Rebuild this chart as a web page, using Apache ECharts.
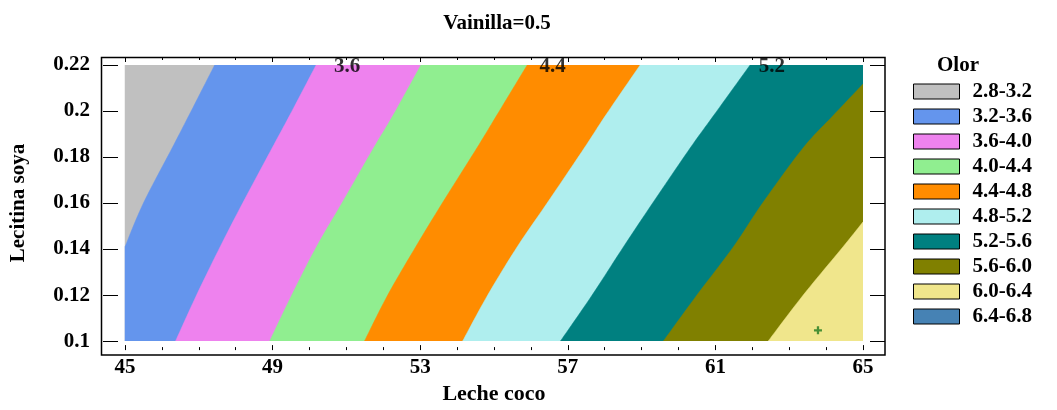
<!DOCTYPE html>
<html>
<head>
<meta charset="utf-8">
<script src="https://cdn.jsdelivr.net/npm/echarts@6/dist/echarts.min.js"></script>
<style>
  html, body { margin: 0; padding: 0; background: #fff; }
  #chart { width: 1057px; height: 410px; }
</style>
</head>
<body>
<div id="chart"></div>
<script>
// Olor response bands over Leche coco (x) and Lecitina soya (y), Vainilla held at 0.5
const X_MIN = 45, X_MAX = 65, X_STEP = 4;
const Y_MIN = 0.1, Y_MAX = 0.22, Y_STEP = 0.02;

const bandLabels = ['2.8-3.2', '3.2-3.6', '3.6-4.0', '4.0-4.4', '4.4-4.8',
                    '4.8-5.2', '5.2-5.6', '5.6-6.0', '6.0-6.4', '6.4-6.8'];

// Contour lines [leche coco, lecitina soya], traced from the top edge downward
const contour3_2 = [[47.43, 0.22], [46.73, 0.198], [46.28, 0.184], [45.50, 0.160], [45.0, 0.141]];
const contour3_6 = [[50.18, 0.22], [49.46, 0.198], [48.99, 0.184], [48.19, 0.160], [47.58, 0.141], [46.94, 0.120], [46.37, 0.10]];
const contour4_0 = [[53.02, 0.22], [52.26, 0.198], [51.74, 0.184], [50.88, 0.160], [50.19, 0.141], [49.52, 0.120], [48.92, 0.10]];
const contour4_4 = [[55.90, 0.22], [55.07, 0.198], [54.54, 0.184], [53.60, 0.160], [52.88, 0.141], [52.12, 0.120], [51.49, 0.10]];
const contour4_8 = [[58.96, 0.22], [58.02, 0.198], [57.45, 0.184], [56.44, 0.160], [55.63, 0.141], [54.83, 0.120], [54.15, 0.10]];
const contour5_2 = [[61.94, 0.22], [60.95, 0.198], [60.32, 0.184], [59.30, 0.160], [58.51, 0.141], [57.66, 0.120], [56.80, 0.10]];
const contour5_6 = [[65.0, 0.2117], [64.19, 0.198], [63.38, 0.184], [62.28, 0.160], [61.49, 0.141], [60.50, 0.120], [59.59, 0.10]];
const contour6_0 = [[65.0, 0.1518], [64.46, 0.141], [63.38, 0.120], [62.43, 0.10]];

// Level labels written along the top edge
const contourLabels = [[51.02, 0.2194, '3.6'], [56.59, 0.2194, '4.4'], [62.53, 0.2194, '5.2']];

// Optimum marker
const optimumPoint = [[63.78, 0.1047]];

const bandColors = ['#c0c0c0', '#6495ed', '#ee82ee', '#90ee90', '#ff8c00',
                    '#afeeee', '#008080', '#808000', '#f0e68c', '#4682b4'];

const FONT = '"Liberation Serif", "Times New Roman", serif';

// Region at or above a contour level: everything right of its line
function regionRightOf(line) {
  const corners = [];
  const last = line[line.length - 1];
  if (last[1] > Y_MIN) corners.push([X_MIN, Y_MIN]);
  corners.push([X_MAX, Y_MIN]);
  if (line[0][1] >= Y_MAX) corners.push([X_MAX, Y_MAX]);
  return { line: line, corners: corners };
}

// Smooth a pixel polyline with a Catmull-Rom spline
function smoothPixels(pts) {
  if (pts.length < 3) return pts;
  const out = [];
  const steps = 12;
  for (let i = 0; i < pts.length - 1; i++) {
    const p0 = pts[Math.max(i - 1, 0)], p1 = pts[i], p2 = pts[i + 1], p3 = pts[Math.min(i + 2, pts.length - 1)];
    for (let s = 0; s < steps; s++) {
      const t = s / steps, t2 = t * t, t3 = t2 * t;
      out.push([0, 1].map(function (k) {
        return 0.5 * ((2 * p1[k]) + (-p0[k] + p2[k]) * t +
          (2 * p0[k] - 5 * p1[k] + 4 * p2[k] - p3[k]) * t2 +
          (-p0[k] + 3 * p1[k] - 3 * p2[k] + p3[k]) * t3);
      }));
    }
  }
  out.push(pts[pts.length - 1]);
  return out;
}

const bandRegions = [
  { line: [[X_MIN, Y_MAX], [X_MIN, Y_MIN]], corners: [[X_MAX, Y_MIN], [X_MAX, Y_MAX]] },
  regionRightOf(contour3_2),
  regionRightOf(contour3_6),
  regionRightOf(contour4_0),
  regionRightOf(contour4_4),
  regionRightOf(contour4_8),
  regionRightOf(contour5_2),
  regionRightOf(contour5_6),
  regionRightOf(contour6_0),
  null
];

const bandSeries = bandLabels.map(function (name, i) {
  const region = bandRegions[i];
  return {
    type: 'custom',
    name: name,
    coordinateSystem: 'cartesian2d',
    xAxisIndex: 0,
    yAxisIndex: 0,
    clip: true,
    z: 1 + i,
    itemStyle: { color: bandColors[i] },
    data: region ? [region.line[0]] : [],
    renderItem: function (params, api) {
      const edge = smoothPixels(region.line.map(function (p) { return api.coord(p); }));
      const rest = region.corners.map(function (p) { return api.coord(p); });
      return {
        type: 'polygon',
        shape: { points: edge.concat(rest) },
        style: { fill: bandColors[i], stroke: bandColors[i], lineWidth: 0.5 }
      };
    }
  };
});

const tickFont = { fontFamily: FONT, fontWeight: 'bold', fontSize: 21, color: '#000' };

function xAxisDef(pos, offset, showLabels) {
  return {
    type: 'value', position: pos, offset: offset,
    min: X_MIN, max: X_MAX, interval: X_STEP,
    axisLine: { show: false },
    axisTick: { show: true, inside: true, length: 5, lineStyle: { color: '#000', width: 1 } },
    minorTick: { show: true, splitNumber: 4, length: 3, lineStyle: { color: '#000', width: 1 } },
    splitLine: { show: false },
    axisLabel: Object.assign({ show: showLabels, margin: 7 }, tickFont),
    name: showLabels ? 'Leche coco' : '',
    nameLocation: 'middle',
    nameGap: 31,
    nameTextStyle: Object.assign({}, tickFont, { fontSize: 22 })
  };
}

function yAxisDef(pos, offset, showLabels) {
  return {
    type: 'value', position: pos, offset: offset,
    min: Y_MIN, max: Y_MAX, interval: Y_STEP,
    axisLine: { show: false },
    axisTick: { show: true, inside: true, length: 15, lineStyle: { color: '#000', width: 1 } },
    splitLine: { show: false },
    axisLabel: Object.assign({ show: showLabels, margin: 13,
      formatter: function (v) { return String(+v.toFixed(2)); } }, tickFont),
    name: showLabels ? 'Lecitina soya' : '',
    nameLocation: 'middle',
    nameGap: 74,
    nameTextStyle: tickFont
  };
}

const chart = echarts.init(document.getElementById('chart'), null, { renderer: 'canvas' });

chart.setOption({
  animation: false,
  backgroundColor: '#fff',
  title: {
    text: 'Vainilla=0.5',
    left: 492, top: 8, textAlign: 'center',
    textStyle: { fontFamily: FONT, fontWeight: 'bold', fontSize: 21, color: '#000' }
  },
  grid: { left: 123, right: 194, top: 65, bottom: 64, containLabel: false },
  xAxis: [xAxisDef('bottom', 9, true), xAxisDef('top', 8, false)],
  yAxis: [yAxisDef('left', 22, true), yAxisDef('right', 22, false)],
  legend: {
    orient: 'vertical',
    left: 913, top: 81, padding: 0,
    itemWidth: 46, itemHeight: 15, itemGap: 4,
    icon: 'rect',
    itemStyle: { borderColor: '#000', borderWidth: 1 },
    textStyle: { fontFamily: FONT, fontWeight: 'bold', fontSize: 21, color: '#000', padding: [0, 0, 0, 8] },
    selectedMode: false,
    data: bandLabels
  },
  graphic: [
    {
      type: 'rect', silent: true, z: 100,
      shape: { x: 101.5, y: 57.5, width: 783.5, height: 297.5 },
      style: { fill: 'none', stroke: '#000', lineWidth: 1.5 }
    },
    {
      type: 'text', silent: true, z: 100,
      x: 958, y: 66,
      style: { text: 'Olor', fill: '#000', font: 'bold 21px ' + FONT, textAlign: 'center', textVerticalAlign: 'middle' }
    }
  ],
  series: bandSeries.concat([
    {
      type: 'scatter', name: 'contour levels', z: 30,
      xAxisIndex: 0, yAxisIndex: 0,
      symbolSize: 0,
      clip: false,
      data: contourLabels,
      label: {
        show: true, position: 'inside',
        formatter: function (p) { return p.value[2]; },
        fontFamily: FONT, fontWeight: 'bold', fontSize: 21, color: '#000'
      },
      silent: true
    },
    {
      type: 'scatter', name: 'optimum', z: 31,
      xAxisIndex: 0, yAxisIndex: 0,
      symbol: 'path://M2.5,0h2v2.5h2.5v2h-2.5v2.5h-2v-2.5h-2.5v-2h2.5z',
      symbolSize: 8,
      itemStyle: { color: '#1f7a1f' },
      data: optimumPoint,
      silent: true
    }
  ])
});
</script>
</body>
</html>
